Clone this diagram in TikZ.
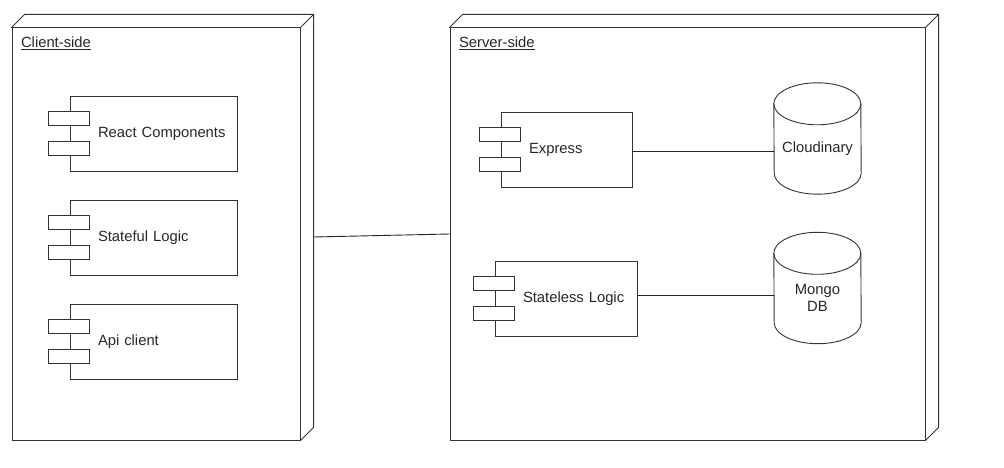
\documentclass[tikz,border=0pt]{standalone}
\usepackage{fontspec}
\setmainfont{Liberation Sans}
\usetikzlibrary{calc}

\begin{document}
\begin{tikzpicture}[x=1pt, y=-1pt, line cap=round,
    font=\fontsize{14.8}{17}\selectfont,
    every node/.style={text=black!85},
    device/.style={draw=black!80, line width=1pt, minimum width=288pt, minimum height=412pt, inner sep=0pt},
    comp/.style={draw=black!80, line width=0.9pt, minimum height=75pt, inner xsep=0pt, align=left, execute at begin node={\hspace*{28pt}}},
    tab/.style={draw=black!80, line width=0.9pt, fill=white},
    store/.style={minimum width=87pt, minimum height=111pt, inner sep=0pt},
    cyl/.style={draw=black!80, line width=0.9pt},
    link/.style={draw=black!85, line width=0.9pt}]
    \useasboundingbox (0,0) rectangle (1004,468);

    % the two devices
    \node[device] (client) at (156, 234) {};
    \node[device, minimum width=475pt] (server) at (687.5, 234) {};
    \draw[line width=1pt, draw=black!80] (client.north west) -- ++(13,-13) -| ($(client.south east)+(13,-13)$) -- (client.south east);
    \draw[line width=1pt, draw=black!80] (client.north east) -- ++(13,-13);
    \draw[line width=1pt, draw=black!80] (server.north west) -- ++(13,-13) -| ($(server.south east)+(13,-13)$) -- (server.south east);
    \draw[line width=1pt, draw=black!80] (server.north east) -- ++(13,-13);
    \node[anchor=base west] (clienttitle) at ($(client.north west)+(6,20)$) {\underline{Client-side}};
    \node[anchor=base west] (servertitle) at ($(server.north west)+(6,20)$) {\underline{Server-side}};

    % components
    \node[comp, text width=167pt] (react) at (153.5, 133.5) {React Components};
    \node[comp, text width=167pt] (stateful) at (153.5, 237.5) {Stateful Logic};
    \node[comp, text width=167pt] (api) at (153.5, 341.5) {Api client};
    \node[comp, text width=131pt] (express) at (566.5, 149.5) {Express};
    \node[comp, text width=142pt] (stateless) at (566, 298.5) {Stateless Logic};
    \foreach \c in {react, stateful, api, express, stateless} {
        \draw[tab] ($(\c.west)+(-21,-22)$) rectangle ++(41,14);
        \draw[tab] ($(\c.west)+(-21,8)$) rectangle ++(41,14);
    }

    % storage
    \node[store, label={[yshift=-10pt]center:Cloudinary}] (cloud) at (817.5, 138.5) {};
    \node[store, label={[yshift=-10pt, align=center]center:Mongo\\DB}] (mongo) at (817.5, 288) {};
    \foreach \s in {cloud, mongo} {
        \draw[cyl] ($(\s.north west)+(0,21)$) arc[start angle=180, end angle=0, x radius=43.5pt, y radius=21pt]
            -- ($(\s.south east)+(0,-21)$) arc[start angle=0, end angle=-180, x radius=43.5pt, y radius=21pt] -- cycle;
        \draw[cyl] ($(\s.north west)+(0,21)$) arc[start angle=180, end angle=360, x radius=43.5pt, y radius=21pt];
    }

    % links
    \draw[link] ([xshift=13pt, yshift=-3pt]client.east) -- (server.west);
    \draw[link] ([yshift=-2pt]express.east) -- ([yshift=-2pt]express.east -| cloud.west);
    \draw[link] ([yshift=3pt]stateless.east) -- ([yshift=3pt]stateless.east -| mongo.west);
\end{tikzpicture}
\end{document}
